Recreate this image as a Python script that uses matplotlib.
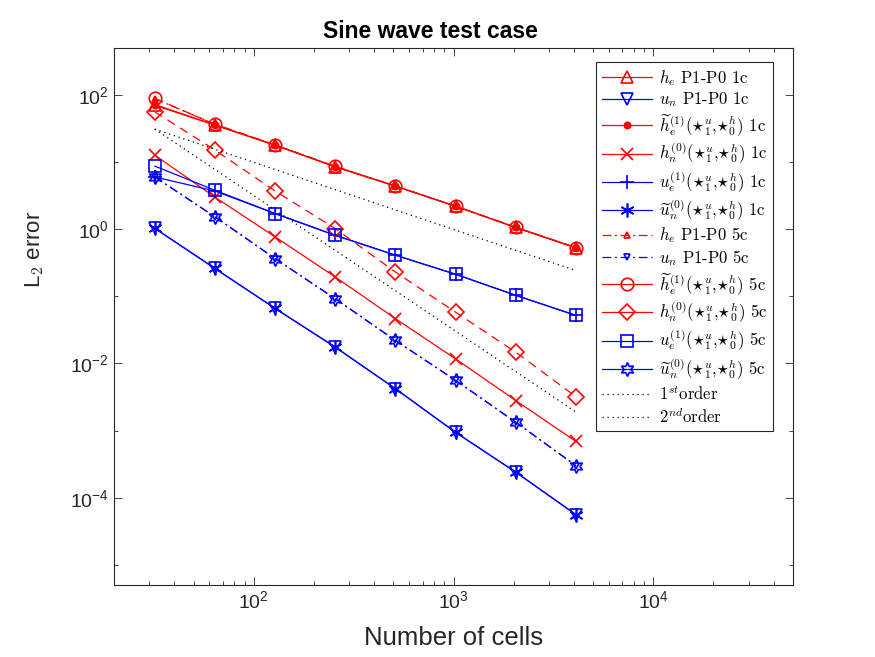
import matplotlib
matplotlib.use("Agg")
import matplotlib.pyplot as plt
from matplotlib.lines import Line2D
from matplotlib.ticker import LogLocator, NullFormatter
import numpy as np

plt.rcParams['mathtext.fontset'] = 'cm'
plt.rcParams['font.family'] = ['Liberation Sans', 'DejaVu Sans']
plt.rcParams['axes.unicode_minus'] = False

cells = [32, 64, 128, 256, 512, 1024, 2048, 4096]

he_p1p0_1c = [70, 35.5, 17.8, 8.5, 4.38, 2.2, 1.06, 0.526]
un_p1p0_1c = [1.03, 0.26, 0.066, 0.0175, 0.0042, 9.4e-4, 2.4e-4, 5.6e-5]
he_t1_1c = [72, 35.7, 17.9, 8.5, 4.38, 2.2, 1.06, 0.53]
hn_0_1c = [12.7, 3.0, 0.77, 0.194, 0.0465, 0.0117, 0.0028, 6.9e-4]
ue_1_1c = [6.0, 3.7, 1.71, 0.81, 0.41, 0.213, 0.1035, 0.052]
un_t0_1c = [1.03, 0.26, 0.066, 0.0175, 0.0042, 9.4e-4, 2.4e-4, 5.6e-5]
he_p1p0_5c = [88, 36.5, 18.0, 8.6, 4.4, 2.2, 1.07, 0.53]
un_p1p0_5c = [6.0, 1.53, 0.365, 0.092, 0.022, 0.0056, 0.00133, 3.0e-4]
he_t1_5c = [89, 36.5, 18.0, 8.6, 4.4, 2.2, 1.07, 0.53]
hn_0_5c = [56, 15.1, 3.7, 1.02, 0.23, 0.058, 0.0147, 0.0032]
ue_1_5c = [8.7, 3.8, 1.71, 0.81, 0.41, 0.213, 0.1035, 0.052]
un_t0_5c = [6.0, 1.53, 0.365, 0.092, 0.022, 0.0056, 0.00133, 3.0e-4]

ref_x = [32, 4096]
ref_first = [31, 0.242]
ref_second = [31, 0.00189]

star = r'({\star}_1^u{,}{\star}_0^h)'
labels = [
    r'$h_e$ P1-P0 1c',
    r'$u_n$ P1-P0 1c',
    r'$\widetilde{h}_e^{(1)}' + star + r'$ 1c',
    r'$h_n^{(0)}' + star + r'$ 1c',
    r'$u_e^{(1)}' + star + r'$ 1c',
    r'$\widetilde{u}_n^{(0)}' + star + r'$ 1c',
    r'$h_e$ P1-P0 5c',
    r'$u_n$ P1-P0 5c',
    r'$\widetilde{h}_e^{(1)}' + star + r'$ 5c',
    r'$h_n^{(0)}' + star + r'$ 5c',
    r'$u_e^{(1)}' + star + r'$ 5c',
    r'$\widetilde{u}_n^{(0)}' + star + r'$ 5c',
    r'$1^{st}$order',
    r'$2^{nd}$order',
]

R = (1, 0, 0)
B = (0, 0, 1)
lw = 0.9
dashdot = (0, (7, 3, 1.5, 3))
dashed = (0, (7, 5))
hexagram = (6, 1, 0)
asterisk = (6, 2, 0)

fig = plt.figure(figsize=(8.75, 6.57), dpi=100)
ax = fig.add_axes([0.1303, 0.1096, 0.776, 0.8173])

# (data, color, plot-linestyle, legend-linestyle, marker, ms, fill)
series = [
    (he_p1p0_1c, R, '-', '-', '^', 9, 'none'),
    (un_p1p0_1c, B, '-', '-', 'v', 9, 'none'),
    (he_t1_1c, R, '-', '-', '.', 9, None),
    (hn_0_1c, R, '-', '-', 'x', 9, 'none'),
    (ue_1_1c, B, '-', '-', '+', 10, 'none'),
    (un_t0_1c, B, '-', '-', asterisk, 10, 'none'),
    (he_p1p0_5c, R, dashdot, dashdot, '^', 4.5, 'none'),
    (un_p1p0_5c, B, dashdot, dashdot, 'v', 4.5, 'none'),
    (he_t1_5c, R, dashed, '-', 'o', 9, 'none'),
    (hn_0_5c, R, dashed, '-', 'D', 8, 'none'),
    (ue_1_5c, B, '-', '-', 's', 8, 'none'),
    (un_t0_5c, B, dashdot, '-', hexagram, 10, 'none'),
]

handles = []
for data, col, ls, lls, mk, ms, fill in series:
    kw = dict(color=col, lw=lw, marker=mk, ms=ms, mew=1.2)
    if fill is not None:
        kw['markerfacecolor'] = fill
    ax.plot(cells, data, linestyle=ls, **kw)
    handles.append(Line2D([], [], linestyle=lls, **kw))

dotted = (0, (1, 3))
ax.plot(ref_x, ref_first, color='k', lw=0.9, linestyle=dotted)
ax.plot(ref_x, ref_second, color='k', lw=0.9, linestyle=dotted)
handles.append(Line2D([], [], color='k', lw=0.9, linestyle=dotted))
handles.append(Line2D([], [], color='k', lw=0.9, linestyle=dotted))

ax.set_xscale('log')
ax.set_yscale('log')
ax.set_xlim(20, 5e4)
ax.set_ylim(5e-6, 5e2)

ax.set_yticks([1e-4, 1e-2, 1e0, 1e2])
ax.yaxis.set_minor_locator(LogLocator(base=10, subs=(1.0,), numticks=30))
ax.yaxis.set_minor_formatter(NullFormatter())
ax.xaxis.set_minor_locator(LogLocator(base=10, subs=np.arange(2, 10), numticks=30))
ax.xaxis.set_minor_formatter(NullFormatter())

gray = (0.15, 0.15, 0.15)
for sp in ax.spines.values():
    sp.set_color(gray)
    sp.set_linewidth(0.8)
ax.tick_params(which='both', direction='in', top=True, right=True, colors=gray,
               labelsize=14, width=0.6)
ax.tick_params(which='major', length=6)
ax.tick_params(which='minor', length=3)

ax.set_xlabel('Number of cells', fontsize=18.5, color=gray, labelpad=10)
ax.set_ylabel(r'L$_2$ error', fontsize=16, color=gray)
ax.yaxis.set_label_coords(-0.10, 0.626)
ax.set_title('Sine wave test case', fontsize=16.5, fontweight='bold', color='k',
             x=0.466, pad=7)

leg = ax.legend(handles, labels, loc='upper right', bbox_to_anchor=(0.9705, 0.974),
                prop={'family': 'cmr10', 'size': 12},
                frameon=True, fancybox=False, framealpha=1, edgecolor=gray,
                handlelength=3.0, labelspacing=0.17, borderpad=0.35, handletextpad=0.4,
                borderaxespad=0)
leg.get_frame().set_linewidth(0.8)

fig.savefig('out.png', dpi=100)
